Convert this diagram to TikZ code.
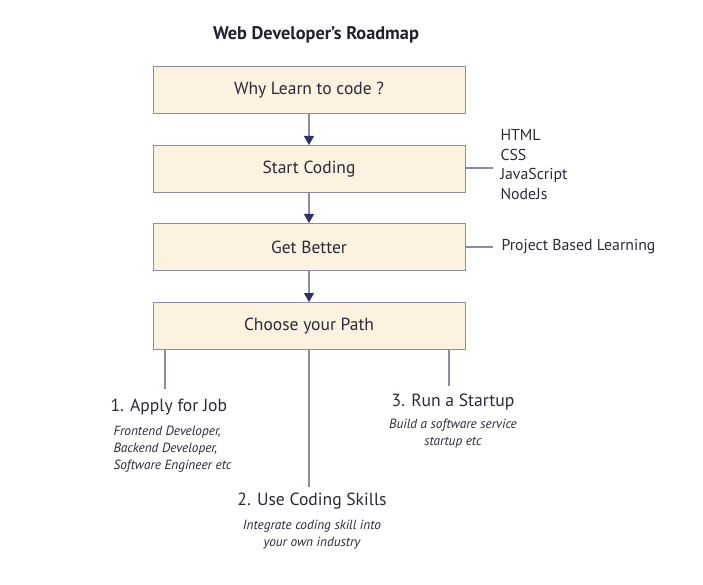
\documentclass[tikz,border=0pt]{standalone}
\usepackage{fontspec}
\setmainfont{PT Sans}
\usepackage{tikz}
\usetikzlibrary{arrows.meta}
\usetikzlibrary{positioning}
\definecolor{boxfill}{HTML}{FDF1E0}
\definecolor{boxline}{HTML}{8B8AA8}
\definecolor{tipc}{HTML}{2E3068}
\definecolor{txt}{HTML}{2A2A38}
\tikzset{b/.style={draw=boxline, fill=boxfill, line width=1pt, minimum width=312pt,
    minimum height=47pt, inner sep=0pt, text=txt, font=\fontsize{17.5}{20}\selectfont}}
\tikzset{l/.style={text=txt, font=\fontsize{15.8}{19.5}\selectfont, align=left}}
\tikzset{p/.style={text=txt, font=\fontsize{17.6}{20}\selectfont}}
\tikzset{s/.style={text=txt, font=\itshape\fontsize{13.3}{17}\selectfont}}
\tikzset{c/.style={draw=boxline, line width=1.2pt}}
\tikzset{a/.style={c, -{Triangle[width=10pt, length=9pt, color=tipc]}}}

\begin{document}
\begin{tikzpicture}[x=1pt, y=-1pt]
    \useasboundingbox (0,0) rectangle (703,585);
    \node[text=txt!80!black, font=\bfseries\fontsize{18.3}{20}\selectfont] (title) at (316,35) {Web Developer’s Roadmap};
    \node[b] (why) at (309,90.5) {Why Learn to code ?};
    \node[b] (start) at (309,169) {Start Coding};
    \node[b] (better) at (309,247) {Get Better};
    \node[b] (path) at (309,326) {Choose your Path};
    \draw[a] (why) -- (start);
    \draw[a] (start) -- (better);
    \draw[a] (better) -- (path);
    % side notes
    \coordinate (sc) at (493,168);
    \coordinate (gb) at (493,247);
    \draw[c] (start.east |- sc) -- (sc);
    \draw[c] (better.east |- gb) -- (gb);
    \node[l, anchor=west] (langs) at (497,164.5) {HTML\\CSS\\JavaScript\\NodeJs};
    \node[l, anchor=west] (pbl) at (498,247) {Project Based Learning};
    % paths
    \coordinate (j) at (165,389);
    \coordinate (u) at (309,487);
    \coordinate (r) at (449,386);
    \draw[c] (path.south -| j) -- (j);
    \draw[c] (path.south) -- (u);
    \draw[c] (path.south -| r) -- (r);
    \node[p, anchor=west] (job) at (107,407) {1. Apply for Job};
    \node[s, anchor=north west, align=left] (jobs) at (110,423) {Frontend Developer,\\Backend Developer,\\Software Engineer etc};
    \node[p] (skills) at (312,501) {2. Use Coding Skills};
    \node[s, below=7pt of skills, align=center, inner sep=0pt] (skill) {Integrate coding skill into\\your own industry};
    \node[p] (startup) at (453,402) {3. Run a Startup};
    \node[s, below=5pt of startup, align=center, inner sep=0pt] (service) {Build a software service\\startup etc};
\end{tikzpicture}
\end{document}
